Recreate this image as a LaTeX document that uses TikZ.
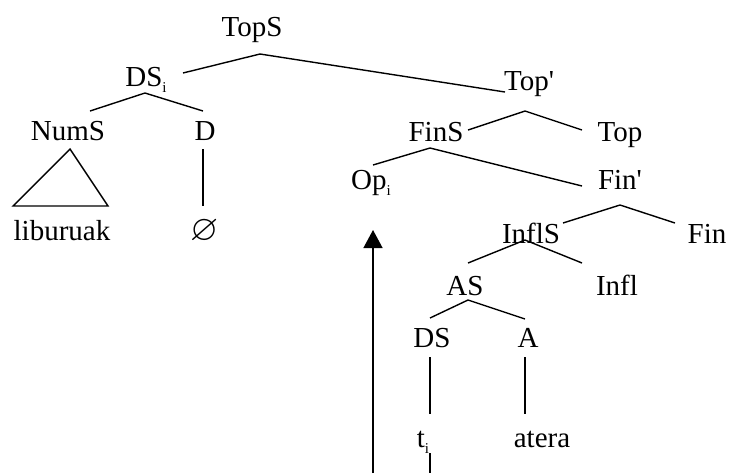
\documentclass[tikz,border=0pt]{standalone}
\usepackage{fontspec}
\usepackage{amssymb}
\setmainfont{Liberation Serif}
\usetikzlibrary{arrows.meta}
\newcommand{\idx}[1]{\raisebox{-3pt}{\fontsize{7.5}{7.5}\selectfont #1}}
\begin{document}
\begin{tikzpicture}[x=0.5pt, y=-0.5pt, line width=0.7pt,
  cat/.style={anchor=base, inner sep=0pt, font=\fontsize{14.5}{16}\selectfont}]
\useasboundingbox (0,0) rectangle (731,473);

% Category labels
\node[cat] (tops) at (252,36) {TopS};
\node[cat] (dsi) at (146,86) {DS\idx{i}};
\node[cat] (topbar) at (529,90) {Top\textquotesingle};
\node[cat] (nums) at (68,140) {NumS};
\node[cat] (d) at (205,140) {D};
\node[cat] (fins) at (436,141) {FinS};
\node[cat] (top) at (620,141) {Top};
\node[cat] (opi) at (371,189) {Op\idx{i}};
\node[cat] (finbar) at (620,189) {Fin\textquotesingle};
\node[cat] (lib) at (62,240) {liburuak};
\node[cat] (empty) at (205,240) {\scalebox{1.25}{$\varnothing$}};
\node[cat] (infls) at (531,243) {InflS};
\node[cat] (fin) at (707,243) {Fin};
\node[cat] (as) at (465,295) {AS};
\node[cat] (infl) at (617,295) {Infl};
\node[cat] (ds) at (432,347) {DS};
\node[cat] (a) at (528,347) {A};
\node[cat] (ti) at (423,447) {t\idx{i}};
\node[cat] (atera) at (542,447) {atera};

% Branch points and line ends
\coordinate (tops-b) at (260,54);
\coordinate (dsi-t) at (183,73);
\coordinate (topbar-t) at (505,92);
\coordinate (dsi-b) at (145,93);
\coordinate (nums-t) at (90,111);
\coordinate (d-t) at (203,111);
\coordinate (topbar-b) at (525,111);
\coordinate (fins-t) at (468,130);
\coordinate (top-t) at (582,130);
\coordinate (fins-b) at (430,148);
\coordinate (opi-t) at (373,165);
\coordinate (finbar-t) at (582,186);
\coordinate (finbar-b) at (620,205);
\coordinate (infls-t) at (563,223);
\coordinate (fin-t) at (675,223);
\coordinate (infls-b) at (525,240);
\coordinate (as-t) at (468,263);
\coordinate (infl-t) at (582,263);
\coordinate (as-b) at (468,300);
\coordinate (ds-t) at (430,318);
\coordinate (a-t) at (525,319);

% Branches
\draw (dsi-t) -- (tops-b) -- (topbar-t);
\draw (nums-t) -- (dsi-b) -- (d-t);
\draw (fins-t) -- (topbar-b) -- (top-t);
\draw (opi-t) -- (fins-b) -- (finbar-t);
\draw (infls-t) -- (finbar-b) -- (fin-t);
\draw (as-t) -- (infls-b) -- (infl-t);
\draw (ds-t) -- (as-b) -- (a-t);

% Triangle and unary lines
\draw (70,149) -- (13,206) -- (108,206) -- cycle;
\draw (203,149) -- (203,206);
\draw (430,357) -- (430,414);
\draw (525,357) -- (525,414);

% Movement
\coordinate (ti-b) at (430,473);
\coordinate (mv-s) at (373,473);
\coordinate (mv-e) at (373,230);
\draw (430,453) -- (ti-b);
\draw[-{Triangle[width=9.5pt,length=9pt]}] (mv-s) -- (mv-e);
\end{tikzpicture}
\end{document}
